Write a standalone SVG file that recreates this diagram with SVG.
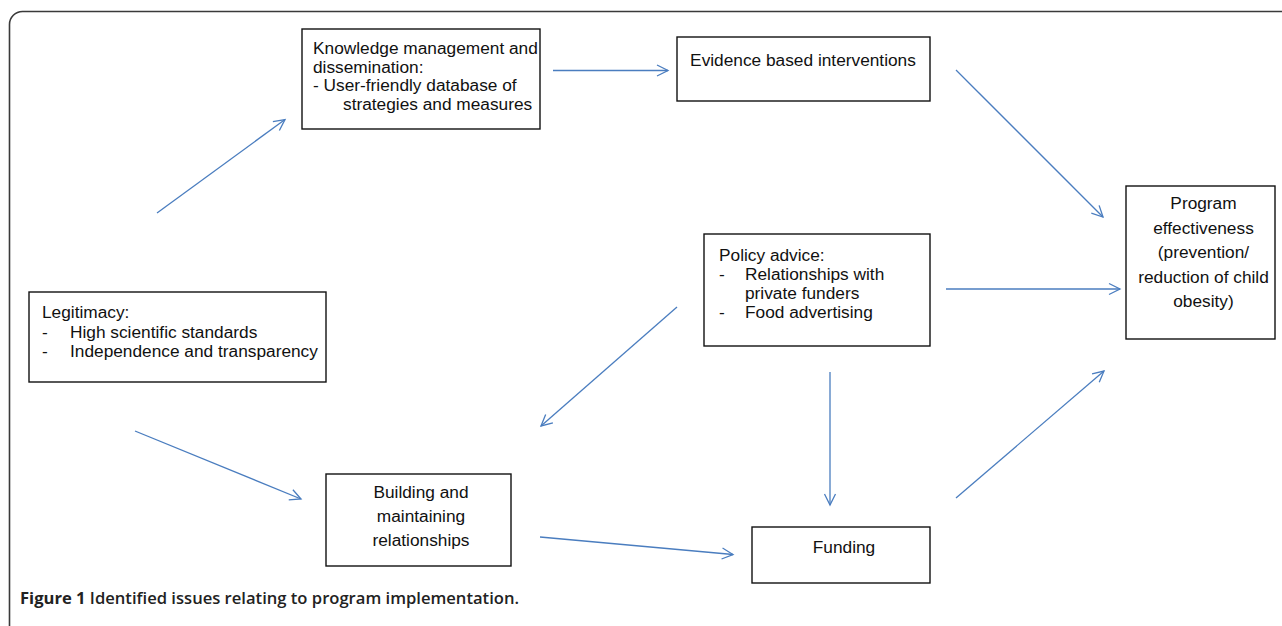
<svg xmlns="http://www.w3.org/2000/svg" width="1282" height="626" viewBox="0 0 1282 626">
<style>
.frame{fill:none;stroke:#3a3a3a;stroke-width:1.6}
.box{fill:#fff;stroke:#111;stroke-width:1.4}
.t{font-family:"Liberation Sans",Arial,sans-serif;font-size:17.3px;fill:#111}
.c{text-anchor:middle}
.conn line{stroke:#4a7dbf;stroke-width:1.3;fill:none;marker-end:url(#ah)}
.cap{font-family:"Open Sans","Noto Sans",sans-serif;font-size:16px;font-weight:700;fill:#222}
</style>
<defs>
<marker id="ah" markerUnits="userSpaceOnUse" markerWidth="14" markerHeight="14" viewBox="0 0 14 14" refX="12" refY="7" orient="auto">
<path d="M1,1.5 L12,7 L1,12.5" fill="none" stroke="#4a7dbf" stroke-width="1.3"/>
</marker>
</defs>
<rect width="1282" height="626" fill="#fff"/>
<rect class="frame" x="9.5" y="11.5" width="1300" height="700" rx="13"/>

<g id="knowledge">
<rect class="box" x="302" y="29" width="238" height="100"/>
<text class="t" x="313" y="54">Knowledge management and</text>
<text class="t" x="313" y="72.5">dissemination:</text>
<text class="t" x="313" y="91">- User-friendly database of</text>
<text class="t" x="343" y="109.5">strategies and measures</text>
</g>

<g id="evidence">
<rect class="box" x="677" y="37" width="253" height="64"/>
<text class="t c" x="803" y="66">Evidence based interventions</text>
</g>

<g id="program">
<rect class="box" x="1126" y="186" width="149" height="153"/>
<text class="t c" x="1203.5" y="209">Program</text>
<text class="t c" x="1203.5" y="233.5">effectiveness</text>
<text class="t c" x="1203.5" y="258">(prevention/</text>
<text class="t c" x="1203.5" y="282.5">reduction of child</text>
<text class="t c" x="1203.5" y="307">obesity)</text>
</g>

<g id="policy">
<rect class="box" x="704" y="234" width="226" height="112"/>
<text class="t" x="719" y="261">Policy advice:</text>
<text class="t" x="719" y="280">-</text>
<text class="t" x="745" y="280">Relationships with</text>
<text class="t" x="745" y="299">private funders</text>
<text class="t" x="719" y="318">-</text>
<text class="t" x="745" y="318">Food advertising</text>
</g>

<g id="legitimacy">
<rect class="box" x="29" y="292" width="297" height="90"/>
<text class="t" x="42" y="318">Legitimacy:</text>
<text class="t" x="42" y="337.5">-</text>
<text class="t" x="70" y="337.5">High scientific standards</text>
<text class="t" x="42" y="357">-</text>
<text class="t" x="70" y="357">Independence and transparency</text>
</g>

<g id="building">
<rect class="box" x="326" y="474" width="185" height="92"/>
<text class="t c" x="421" y="498">Building and</text>
<text class="t c" x="421" y="522">maintaining</text>
<text class="t c" x="421" y="546">relationships</text>
</g>

<g id="funding">
<rect class="box" x="752" y="527" width="178" height="56"/>
<text class="t c" x="844" y="553">Funding</text>
</g>

<g id="connectors" class="conn">
<line x1="157" y1="213" x2="285" y2="119.5"/>
<line x1="553" y1="70.5" x2="668" y2="70.5"/>
<line x1="956" y1="70" x2="1103" y2="217"/>
<line x1="946" y1="289" x2="1120" y2="289"/>
<line x1="677" y1="307" x2="541" y2="426"/>
<line x1="830" y1="372" x2="830" y2="505"/>
<line x1="135" y1="431" x2="301" y2="499"/>
<line x1="540" y1="537" x2="733" y2="554.5"/>
<line x1="956" y1="498" x2="1104" y2="371"/>
</g>

<text class="cap" x="20" y="604" textLength="499" lengthAdjust="spacingAndGlyphs">Figure 1 <tspan font-weight="600">Identified issues relating to program implementation.</tspan></text>
</svg>
